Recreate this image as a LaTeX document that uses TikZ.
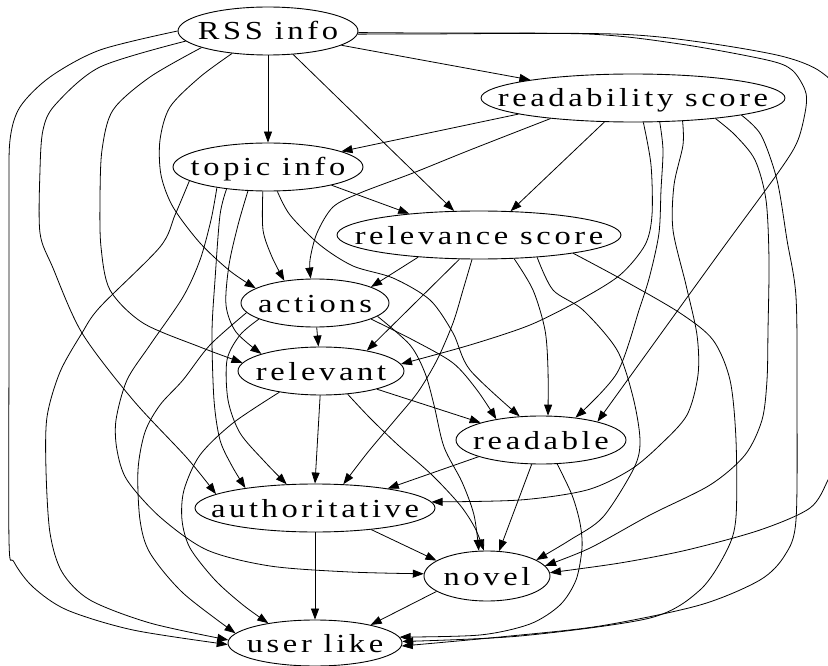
\documentclass[tikz,border=0pt]{standalone}
\usepackage{fontspec}
\newfontfamily\lbl{Liberation Serif}[FakeStretch=1.25, LetterSpace=14]
\usetikzlibrary{shapes.geometric,arrows.meta}

\tikzset{
  vtx/.style={draw, ellipse, line width=0.9pt, inner sep=0pt,
    text height=22pt, text depth=4pt, minimum height=48pt,
    font={\lbl\fontsize{26pt}{30pt}\selectfont}},
  edge/.style={draw, line width=0.8pt, -{Triangle[length=11pt,width=8pt]}},
}

\begin{document}
\begin{tikzpicture}[x=1pt, y=-1pt]
\fill[white] (0,0) rectangle (828,666);
\useasboundingbox (0,0) rectangle (828,666);
\clip (0,0) rectangle (828,666);

% nodes
\node[vtx, minimum width=180pt] (rss) at (268,31) {\makebox[0pt]{RSS info}};
\node[vtx, minimum width=304pt] (rds) at (633,98) {\makebox[0pt]{readability score}};
\node[vtx, minimum width=190pt] (top) at (268,167) {\makebox[0pt]{topic info}};
\node[vtx, minimum width=284pt] (rsc) at (479,235) {\makebox[0pt]{relevance score}};
\node[vtx, minimum width=148pt] (act) at (315,303) {\makebox[0pt]{actions}};
\node[vtx, minimum width=166pt] (rlv) at (321,371) {\makebox[0pt]{relevant}};
\node[vtx, minimum width=170pt] (rdb) at (541,440) {\makebox[0pt]{readable}};
\node[vtx, minimum width=240pt] (aut) at (315,508) {\makebox[0pt]{authoritative}};
\node[vtx, minimum width=126pt, minimum height=50pt] (nov) at (487,576) {\makebox[0pt]{novel}};
\node[vtx, minimum width=174pt, minimum height=46pt] (usr) at (315,643) {\makebox[0pt]{user like}};

% edges out of RSS info
\draw[edge] (rss.-11) -- (rds.170);
\draw[edge] (rss.-90) -- (top.90);
\draw[edge] (rss.-43) -- (rsc.136);
\draw[edge] plot[smooth] coordinates {(rss.212) (200,77) (170,107) (160,140) (161,175) (173,207) (200,243) (230,271) (act.166)};
\draw[edge] plot[smooth] coordinates {(rss.194) (150,77) (113,110) (102,150) (100,200) (101,247) (110,290) (143,323) (200,347) (rlv.174)};
\draw[edge] plot[smooth] coordinates {(rss.-2) (420,34) (587,34) (680,44) (767,60) (792,70) (805,90) (806,107) (798,140) (780,170) (720,252) (660,335) (rdb.18)};
\draw[edge] plot[smooth] coordinates {(rss.187) (100,67) (55,105) (43,130) (40,170) (40,233) (53,268) (82,333) (133,400) (187,458) (aut.172)};
\draw[edge] plot[smooth] coordinates {(rss.-1) (420,33) (614,34) (700,42) (781,56) (821,72) (840,100) (850,200) (850,380) (840,450) (828,480) (810,508) (760,530) (687,550) (620,563) (nov.3)};
\draw[edge] plot[smooth] coordinates {(rss.180) (100,50) (50,77) (20,107) (10,140) (9,200) (9,340) (9,540) (14,562) (33,587) (67,610) (133,630) (usr.181)};

% edges out of readability score
\draw[edge] (rds.188) -- (top.12);
\draw[edge] (rds.220) -- (rsc.37);
\draw[edge] plot[smooth] coordinates {(rds.194) (470,150) (413,173) (360,193) (333,207) (317,233) (310,260) (act.100)};
\draw[edge] plot[smooth] coordinates {(rds.-67) (651,165) (652,215) (645,245) (620,275) (580,300) (530,325) (470,345) (rlv.5)};
\draw[edge] plot[smooth] coordinates {(rds.-42) (663,150) (661,190) (659,233) (650,275) (640,307) (617,373) (rdb.33)};
\draw[edge] plot[smooth] coordinates {(rds.-25) (683,145) (674,185) (673,230) (686,285) (697,335) (698,375) (687,415) (660,445) (630,470) (587,490) (520,500) (aut.3)};
\draw[edge] plot[smooth] coordinates {(rds.-14) (735,135) (755,160) (766,200) (769,260) (768,330) (767,380) (762,420) (745,455) (710,485) (650,515) (590,548) (nov.10)};
\draw[edge] plot[smooth] coordinates {(rds.-9) (761,135) (777,180) (787,240) (796,297) (797,400) (796,520) (785,555) (760,580) (700,605) (600,626) (500,637) (usr.-2)};

% edges out of topic info
\draw[edge] (top.-16) -- (rsc.163);
\draw[edge] plot[smooth] coordinates {(top.258) (263,230) (272,257) (act.144)};
\draw[edge] plot[smooth] coordinates {(top.230) (238,225) (229,265) (226,305) (236,332) (rlv.164)};
\draw[edge] plot[smooth] coordinates {(top.-69) (290,215) (320,245) (353,266) (393,278) (430,300) (453,333) (470,370) (rdb.132)};
\draw[edge] plot[smooth] coordinates {(top.208) (220,215) (215,280) (212,333) (214,400) (220,440) (232,466) (aut.164)};
\draw[edge] plot[smooth] coordinates {(top.202) (211,220) (200,260) (183,297) (150,345) (127,380) (116,420) (117,450) (127,480) (160,517) (207,550) (270,566) (350,572) (nov.178)};
\draw[edge] plot[smooth] coordinates {(top.190) (175,215) (160,247) (100,307) (82,333) (60,372) (47,417) (46,470) (50,533) (62,572) (90,600) (150,623) (usr.178)};

% edges out of relevance score
\draw[edge] (rsc.200) -- (act.16);
\draw[edge] (rsc.231) -- (rlv.24);
\draw[edge] plot[smooth] coordinates {(rsc.-34) (533,290) (545,330) (548,370) (rdb.74)};
\draw[edge] plot[smooth] coordinates {(rsc.254) (463,290) (453,323) (437,360) (418,392) (395,420) (368,452) (aut.40)};
\draw[edge] plot[smooth] coordinates {(rsc.-21) (553,290) (583,310) (617,350) (633,397) (640,440) (634,468) (603,517) (570,540) (nov.18)};
\draw[edge] plot[smooth] coordinates {(rsc.-11) (623,280) (680,313) (713,340) (730,380) (736,440) (736,517) (727,550) (700,590) (650,618) (520,636) (usr.1)};

% edges out of actions
\draw[edge] (act.-86) -- (rlv.96);
\draw[edge] plot[smooth] coordinates {(act.-16) (413,340) (453,363) (477,390) (rdb.155)};
\draw[edge] plot[smooth] coordinates {(act.196) (240,335) (227,360) (228,400) (240,433) (265,462) (aut.140)};
\draw[edge] plot[smooth] coordinates {(act.-12) (410,345) (425,373) (434,405) (444,447) (462,482) (474,515) (nov.108)};
\draw[edge] plot[smooth] coordinates {(act.188) (210,345) (183,380) (160,405) (145,432) (138,470) (140,520) (150,553) (183,593) (usr.173)};

% edges out of relevant
\draw[edge] (rlv.-18) -- (rdb.164);
\draw[edge] (rlv.-92) -- (aut.90);
\draw[edge] plot[smooth] coordinates {(rlv.-41) (370,418) (398,445) (432,475) (460,505) (475,528) (nov.97)};
\draw[edge] plot[smooth] coordinates {(rlv.207) (233,423) (200,455) (184,490) (182,520) (190,548) (215,580) (243,605) (usr.157)};

% edges out of readable
\draw[edge] (rdb.195) -- (aut.15);
\draw[edge] (rdb.249) -- (nov.64);
\draw[edge] plot[smooth] coordinates {(rdb.-56) (572,495) (580,523) (582,548) (576,580) (560,605) (530,624) (480,635) (usr.4)};

% edges out of authoritative and novel
\draw[edge] (aut.-21) -- (nov.163);
\draw[edge] (aut.-90) -- (usr.90);
\draw[edge] (nov.197) -- (usr.18);
\end{tikzpicture}
\end{document}
